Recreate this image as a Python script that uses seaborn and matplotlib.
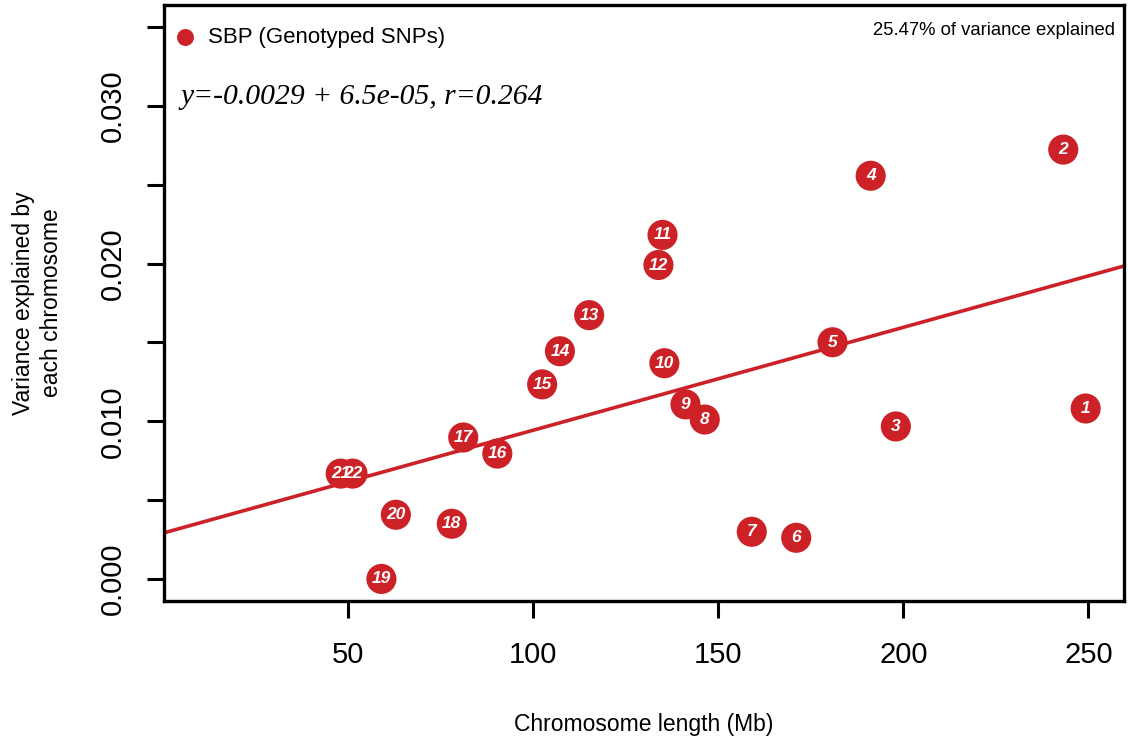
import matplotlib
matplotlib.use("Agg")
import matplotlib.pyplot as plt
import seaborn as sns
import pandas as pd
import numpy as np

chromosomes = ["1", "2", "3", "4", "5", "6", "7", "8", "9", "10", "11",
               "12", "13", "14", "15", "16", "17", "18", "19", "20", "21", "22"]
length_mb = [249.25, 243.2, 198.0, 191.2, 180.9, 171.1, 159.1, 146.4, 141.2,
             135.5, 135.0, 133.9, 115.2, 107.3, 102.5, 90.4, 81.2, 78.1,
             59.1, 63.0, 48.1, 51.3]
variance = [0.01081, 0.02723, 0.00967, 0.02557, 0.01501, 0.00261, 0.00299,
            0.01011, 0.01107, 0.01368, 0.02182, 0.01991, 0.01673, 0.01444,
            0.01234, 0.00795, 0.00897, 0.00350, 0.00000, 0.00407, 0.00668,
            0.00668]
legend_label = "SBP (Genotyped SNPs)"
equation_text = "y=-0.0029 + 6.5e-05, r=0.264"
explained_text = "25.47% of variance explained"
x_ticks = [50, 100, 150, 200, 250]
y_ticks = [0.000, 0.005, 0.010, 0.015, 0.020, 0.025, 0.030, 0.035]
y_ticklabels = ["0.000", "", "0.010", "", "0.020", "", "0.030", ""]

df = pd.DataFrame({"chrom": chromosomes, "length": length_mb, "var": variance})

RED = "#CB2127"
sns.set_theme(style="white")
plt.rcParams["font.family"] = ["Liberation Sans", "DejaVu Sans"]
plt.rcParams["text.color"] = "black"
plt.rcParams["axes.labelcolor"] = "black"

fig = plt.figure(figsize=(11.28, 7.4), dpi=100)
ax = fig.add_axes([164 / 1128, 1 - 601 / 740, (1124 - 164) / 1128, (601 - 5) / 740])
ax.set_xlim(0.4, 259.6)
ax.set_ylim(-0.0014, 0.0364)

sns.regplot(data=df, x="length", y="var", ax=ax, scatter=False, ci=None,
            truncate=False, color=RED, line_kws={"lw": 2.6, "zorder": 2})
sns.scatterplot(data=df, x="length", y="var", ax=ax, s=470, color=RED,
                edgecolor="none", zorder=3, legend=False)
for c, xv, yv in zip(chromosomes, length_mb, variance):
    ax.text(xv, yv, c, color="white", ha="center", va="center",
            fontsize=12.5, fontstyle="italic", fontweight="bold", zorder=4)

# legend
ax.scatter([], [], s=125, color=RED, label=legend_label)
leg = ax.legend(loc="upper left", bbox_to_anchor=(0.0, 0.98), frameon=False,
                fontsize=16, handletextpad=0.55, borderaxespad=0.0,
                borderpad=0.45, handlelength=1.0)

ax.text(0.017, 0.845, equation_text, transform=ax.transAxes, fontsize=21.3,
        family="Liberation Serif", fontstyle="italic", va="center", ha="left")
ax.text(0.9906, 0.958, explained_text, transform=ax.transAxes, fontsize=13.3,
        va="center", ha="right")

ax.set_xticks(x_ticks)
ax.set_xticklabels([str(t) for t in x_ticks])
ax.set_yticks(y_ticks)
ax.set_yticklabels(y_ticklabels, rotation=90, va="center")
ax.tick_params(axis="both", direction="out", length=12.5, width=2.2,
               colors="black", labelsize=21, pad=14, bottom=True, left=True)
ax.tick_params(axis="x", pad=16)
for s in ax.spines.values():
    s.set_linewidth(2.4)
    s.set_color("black")

ax.set_xlabel("Chromosome length (Mb)", fontsize=16.5, labelpad=32)
ax.set_ylabel("Variance explained by\neach chromosome", fontsize=16.5,
              labelpad=26, linespacing=1.3)

fig.savefig("out.png", dpi=100)
